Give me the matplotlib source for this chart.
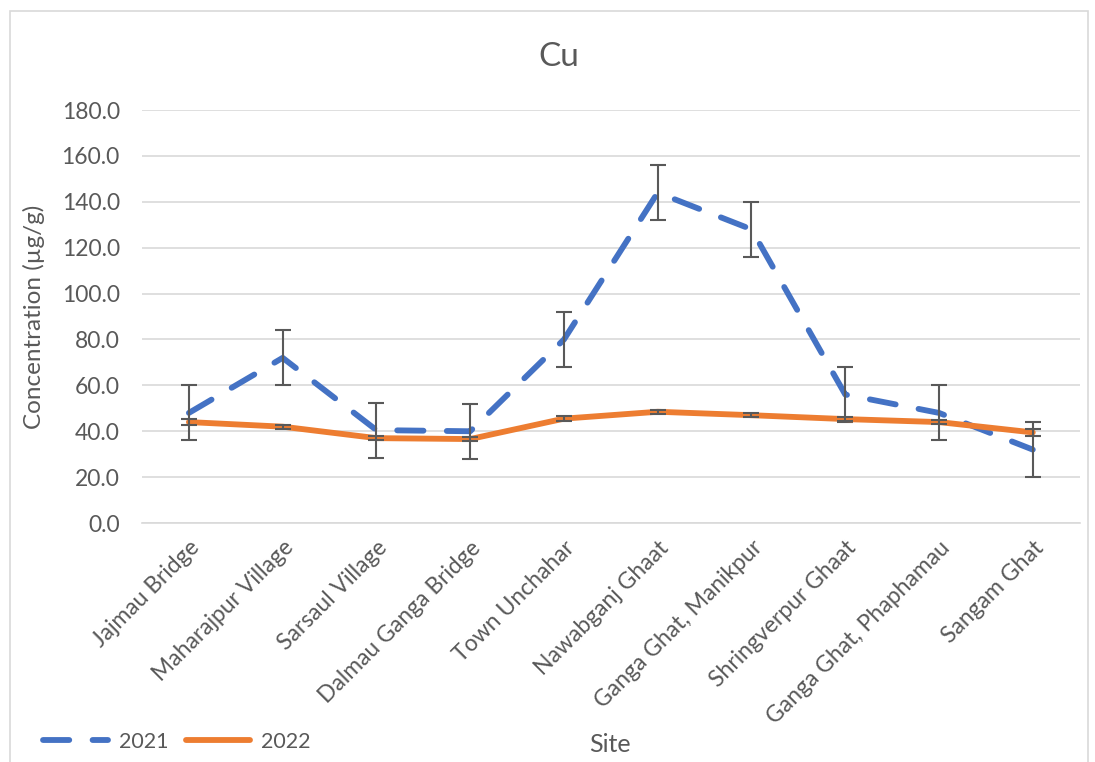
import numpy as np
import matplotlib.pyplot as plt
from matplotlib.patches import Rectangle

plt.rcParams['font.family'] = ['Lato', 'DejaVu Sans']

sites = ['Jajmau Bridge', 'Maharajpur Village', 'Sarsaul Village', 'Dalmau Ganga Bridge',
         'Town Unchahar', 'Nawabganj Ghaat', 'Ganga Ghat, Manikpur', 'Shringverpur Ghaat',
         'Ganga Ghat, Phaphamau', 'Sangam Ghat']
cu_2021 = [48.0, 72.0, 40.5, 40.0, 80.0, 144.0, 128.0, 56.0, 48.0, 32.0]
err_2021 = [12.0, 12.0, 12.0, 12.0, 12.0, 12.0, 12.0, 12.0, 12.0, 12.0]
cu_2022 = [44.0, 42.0, 37.0, 36.6, 45.5, 48.5, 47.0, 45.3, 44.0, 39.5]
err_2022 = [1.4, 0.8, 1.0, 1.0, 1.0, 0.9, 0.8, 1.0, 1.0, 1.6]

blue = '#4472C4'
orange = '#ED7D31'
grey = '#595959'

fig = plt.figure(figsize=(10.95, 7.62), dpi=100)
ax = fig.add_axes([0.1297, 0.3136, 0.8563, 0.542])
x = np.arange(len(sites))

l1, = ax.plot(x, cu_2021, color=blue, lw=4.2, ls=(0, (4.5, 4.0)),
              dash_capstyle='round', zorder=3, label='2021')
ax.errorbar(x, cu_2021, yerr=err_2021, fmt='none', ecolor=grey, elinewidth=1.5,
            capsize=6, capthick=1.5, zorder=4)
l2, = ax.plot(x, cu_2022, color=orange, lw=4.2, solid_capstyle='round',
              zorder=5, label='2022')
ax.errorbar(x, cu_2022, yerr=err_2022, fmt='none', ecolor=grey, elinewidth=1.5,
            capsize=6, capthick=1.5, zorder=6)

ax.set_xlim(-0.5, len(sites) - 0.5)
ax.set_ylim(0, 180)
ax.set_yticks(np.arange(0, 181, 20))
ax.set_yticklabels([f'{v:.1f}' for v in np.arange(0, 181, 20)])
ax.set_xticks(x)
ax.set_xticklabels(sites, rotation=45, ha='right', rotation_mode='anchor')
ax.tick_params(axis='both', length=0, labelsize=16.5, colors=grey)
ax.tick_params(axis='y', pad=16)
ax.tick_params(axis='x', pad=10)
ax.grid(axis='y', color='#D9D9D9', lw=1.2)
ax.set_axisbelow(True)
for s in ['top', 'right', 'left']:
    ax.spines[s].set_visible(False)
ax.spines['bottom'].set_color('#D9D9D9')
ax.spines['bottom'].set_linewidth(1.2)

ax.set_ylabel('Concentration (µg/g)', fontsize=17.5, color=grey, labelpad=12)
fig.text(0.557, 0.008, 'Site', fontsize=18, color=grey, ha='center', va='bottom')
fig.text(0.51, 0.925, 'Cu', fontsize=24, color=grey, ha='center', va='center')

fig.legend(handles=[l1, l2], loc='lower left', bbox_to_anchor=(0.022, -0.012),
           ncol=2, frameon=False, fontsize=15.5, labelcolor=grey,
           handlelength=3.0, columnspacing=0.8, handletextpad=0.5)

fig.add_artist(Rectangle((0.009, -0.01), 0.985, 0.995, transform=fig.transFigure,
                         fill=False, edgecolor='#D9D9D9', lw=1.2))

fig.savefig('out.png', dpi=100)
